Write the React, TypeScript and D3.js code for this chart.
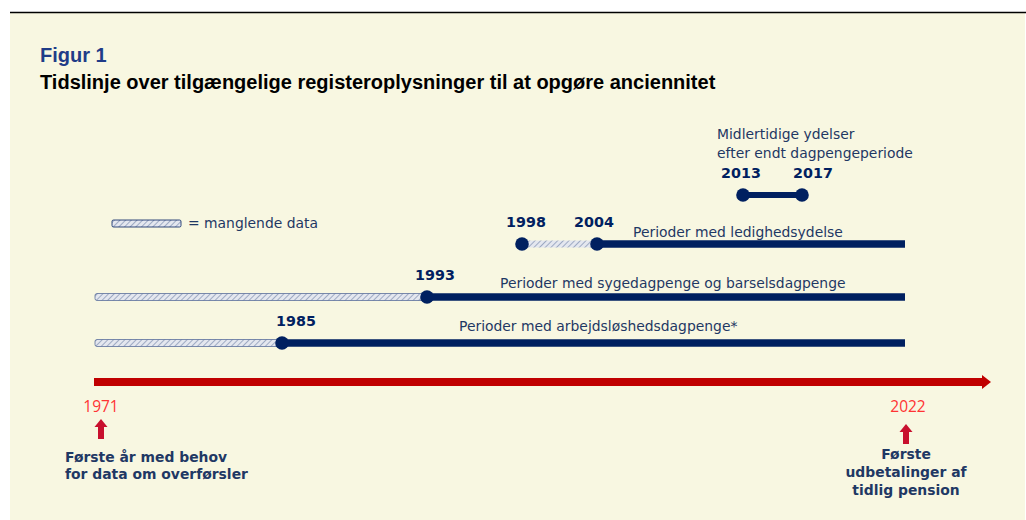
import React from "react";
import * as d3 from "d3";

const W = 1026;
const H = 520;

// Schematic timeline: anchor years and their horizontal positions (non-linear in the original)
const anchorYears = [1971, 1985, 1993, 1998, 2004, 2013, 2017, 2022];
const anchorPos = [95, 282, 427, 522, 597, 743, 802, 905];

type Row = {
  name: string;
  missingFrom: number | null;
  start: number;
  end: number;
  yRow: number;
  dots: number[];
};

const rows: Row[] = [
  { name: "Perioder med arbejdsløshedsdagpenge*", missingFrom: 1971, start: 1985, end: 2022, yRow: 0, dots: [1985] },
  { name: "Perioder med sygedagpenge og barselsdagpenge", missingFrom: 1971, start: 1993, end: 2022, yRow: 1, dots: [1993] },
  { name: "Perioder med ledighedsydelse", missingFrom: 1998, start: 2004, end: 2022, yRow: 2, dots: [1998, 2004] },
  { name: "", missingFrom: null, start: 2013, end: 2017, yRow: 3, dots: [2013, 2017] },
];

const yearLabels = [
  { year: 1985, dx: 14 },
  { year: 1993, dx: 8 },
  { year: 1998, dx: 4 },
  { year: 2004, dx: -3 },
  { year: 2013, dx: -2 },
  { year: 2017, dx: 11 },
];

const rowY = [343, 297, 244, 195];
const rowLabelX = [459, 500, 633];
const rowLabelY = [331, 288, 237];

const navy = "#002060";
const textNavy = "#1f3864";
const labelFont = "DejaVu Sans, Verdana, sans-serif";
const labelSize = 13.9;

export default function App() {
  const x = d3.scaleLinear().domain(anchorYears).range(anchorPos);
  const rowOf = (yr: number) => {
    const r = rows.find((d) => d.dots.includes(yr));
    return r ? rowY[r.yRow] : 0;
  };

  const arrowY = 382;
  const arrowEnd = 991;

  const upArrow = (cx: number, top: number) => {
    const p = d3.path();
    p.moveTo(cx, top);
    p.lineTo(cx + 6.5, top + 8);
    p.lineTo(cx + 3, top + 8);
    p.lineTo(cx + 3, top + 20);
    p.lineTo(cx - 3, top + 20);
    p.lineTo(cx - 3, top + 8);
    p.lineTo(cx - 6.5, top + 8);
    p.closePath();
    return p.toString();
  };

  return (
    <div style={{ position: "absolute", left: 0, top: 0 }}>
      <svg width={W} height={H} style={{ display: "block" }}>
        <defs>
          <pattern id="hatch" width="4" height="4" patternUnits="userSpaceOnUse" patternTransform="rotate(45)">
            <rect width="4" height="4" fill="#e4e7ef" />
            <line x1="0" y1="0" x2="0" y2="4" stroke="#8c9ab8" strokeWidth="1.6" />
          </pattern>
        </defs>
        <rect x={10} y={13} width={1015} height={507} fill="#f8f7e1" />
        <line x1={10} x2={1026} y1={12.5} y2={12.5} stroke="#000" strokeWidth={1.5} />

        <text x={40} y={62} fontFamily="Liberation Sans, Arial, sans-serif" fontWeight="bold" fontSize={20} fill="#1f3c88">
          Figur 1
        </text>
        <text x={40} y={89} fontFamily="Liberation Sans, Arial, sans-serif" fontWeight="bold" fontSize={20} fill="#000">
          Tidslinje over tilgængelige registeroplysninger til at opgøre anciennitet
        </text>

        {/* legend */}
        <rect x={112} y={220} width={69} height={7} fill="url(#hatch)" stroke={navy} strokeWidth={0.8} rx={1.5} />
        <text x={188} y={228} fontFamily={labelFont} fontSize={labelSize} fill={textNavy}>
          = manglende data
        </text>

        {/* rows */}
        {rows.map((r, i) => {
          const y = rowY[r.yRow];
          return (
            <g key={i}>
              {r.missingFrom !== null && (
                <rect
                  x={x(r.missingFrom)}
                  y={y - 3.5}
                  width={x(r.start) - x(r.missingFrom)}
                  height={7}
                  fill="url(#hatch)"
                  stroke={r.yRow === 2 ? "none" : "#5a6f9a"}
                  strokeWidth={0.8}
                  rx={2}
                />
              )}
              <line
                x1={x(r.start)}
                x2={x(r.end)}
                y1={y}
                y2={y}
                stroke={navy}
                strokeWidth={r.yRow === 3 ? 6 : 7.5}
                strokeLinecap="butt"
              />
              {r.dots.map((d) => (
                <circle key={d} cx={x(d)} cy={y} r={6.8} fill={navy} />
              ))}
              {r.name && (
                <text x={rowLabelX[r.yRow]} y={rowLabelY[r.yRow]} fontFamily={labelFont} fontSize={labelSize} fill={textNavy}>
                  {r.name}
                </text>
              )}
            </g>
          );
        })}

        {yearLabels.map((l) => (
          <text
            key={l.year}
            x={x(l.year) + l.dx}
            y={rowOf(l.year) - 17}
            textAnchor="middle"
            fontFamily={labelFont}
            fontWeight="bold"
            fontSize={14.3}
            fill={navy}
          >
            {l.year}
          </text>
        ))}

        <text x={717} y={139} fontFamily={labelFont} fontSize={labelSize} fill={textNavy}>
          Midlertidige ydelser
        </text>
        <text x={717} y={158} fontFamily={labelFont} fontSize={labelSize} fill={textNavy}>
          efter endt dagpengeperiode
        </text>

        {/* main red arrow */}
        <rect x={x(1971) - 1} y={arrowY - 4} width={arrowEnd - 8 - x(1971) + 1} height={8} fill="#c00000" />
        <path
          d={`M${arrowEnd - 9},${arrowY - 7} L${arrowEnd},${arrowY} L${arrowEnd - 9},${arrowY + 7} Z`}
          fill="#c00000"
        />

        <text x={x(1971) + 6} y={412} textAnchor="middle" fontFamily="Open Sans, DejaVu Sans, sans-serif" fontSize={15.5} fill="#ff3333">
          1971
        </text>
        <text x={x(2022) + 3} y={412} textAnchor="middle" fontFamily="Open Sans, DejaVu Sans, sans-serif" fontSize={15.5} fill="#ff3333">
          2022
        </text>

        <path d={upArrow(x(1971) + 6, 419)} fill="#c8102e" />
        <path d={upArrow(x(2022) + 1, 424)} fill="#c8102e" />

        <text fontFamily={labelFont} fontWeight="bold" fontSize={13.9} fill={textNavy}>
          <tspan x={65} y={462}>Første år med behov</tspan>
          <tspan x={65} y={479}>for data om overførsler</tspan>
        </text>
        <text textAnchor="middle" fontFamily={labelFont} fontWeight="bold" fontSize={13.9} fill={textNavy}>
          <tspan x={906} y={459}>Første</tspan>
          <tspan x={906} y={477}>udbetalinger af</tspan>
          <tspan x={906} y={495}>tidlig pension</tspan>
        </text>
      </svg>
    </div>
  );
}
